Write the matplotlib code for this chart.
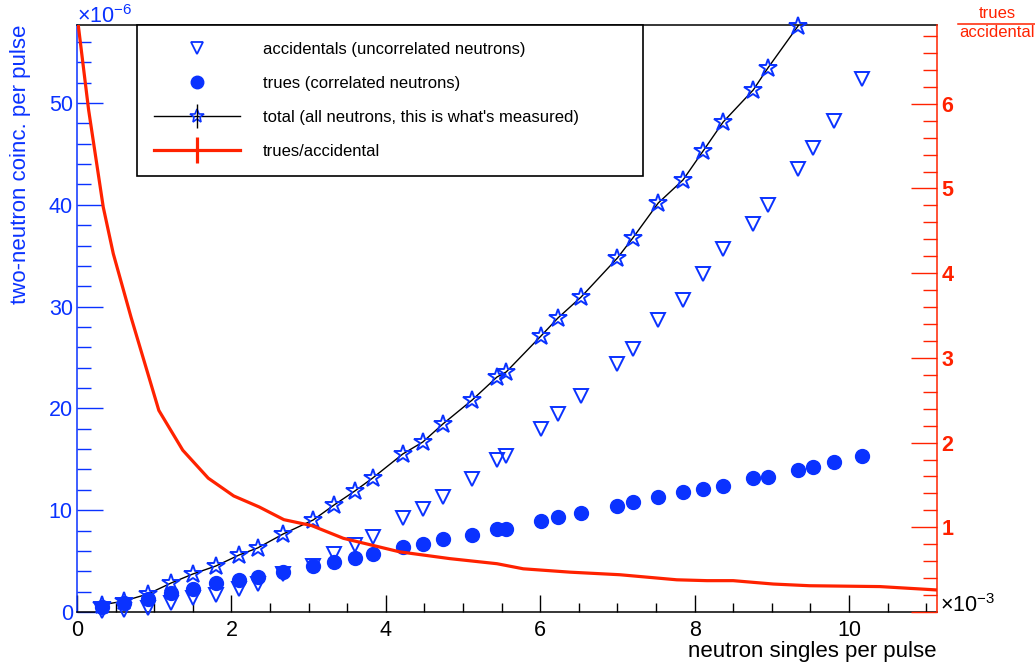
import numpy as np
import matplotlib.pyplot as plt
from matplotlib.lines import Line2D
from matplotlib.legend_handler import HandlerTuple
from matplotlib.ticker import MultipleLocator, FuncFormatter

plt.rcParams['font.family'] = ['Liberation Sans', 'DejaVu Sans']
plt.rcParams['mathtext.fontset'] = 'custom'
plt.rcParams['mathtext.rm'] = 'Liberation Sans'

BLUE = '#0a32ff'
RED = '#ff2200'

# neutron singles per pulse (units of 1e-3)
singles = [0.32, 0.61, 0.92, 1.22, 1.50, 1.80, 2.10, 2.34, 2.67, 3.06,
           3.33, 3.60, 3.83, 4.22, 4.48, 4.74, 5.12, 5.44, 5.56, 6.01,
           6.23, 6.53, 7.00, 7.20, 7.53, 7.85, 8.11, 8.37, 8.76, 8.95,
           9.34, 9.53, 9.81, 10.17]

# two-neutron coincidences per pulse (units of 1e-6)
accidentals = [0.05, 0.15, 0.39, 0.88, 1.38, 1.67, 2.26, 2.75, 3.73, 4.52,
               5.70, 6.58, 7.37, 9.23, 10.12, 11.30, 13.06, 14.93, 15.32, 17.98,
               19.45, 21.22, 24.36, 25.83, 28.68, 30.65, 33.20, 35.66, 38.11, 39.98,
               43.52, 45.58, 48.23, 52.36]
trues = [0.49, 0.88, 1.28, 1.87, 2.26, 2.85, 3.14, 3.44, 3.93, 4.52,
         4.91, 5.30, 5.70, 6.39, 6.68, 7.17, 7.56, 8.15, 8.15, 8.94,
         9.33, 9.72, 10.41, 10.81, 11.30, 11.79, 12.08, 12.38, 13.16, 13.26,
         13.95, 14.24, 14.73, 15.32]
total = [0.69, 1.08, 1.77, 2.85, 3.73, 4.52, 5.60, 6.29, 7.66, 9.04,
         10.51, 11.89, 13.16, 15.52, 16.70, 18.47, 20.83, 23.08, 23.58, 27.11,
         28.88, 30.94, 34.77, 36.74, 40.18, 42.44, 45.28, 48.13, 51.28, 53.44,
         57.56, 59.80, 62.96, 67.70]

# trues/accidental ratio curve (right axis)
ratio_x = [0.0, 0.15, 0.34, 0.47, 0.70, 1.06, 1.37, 1.70, 2.03, 2.36, 2.68,
           3.04, 3.45, 4.18, 4.83, 5.44, 5.78, 6.39, 7.03, 7.77, 8.16, 8.50,
           9.02, 9.49, 10.40, 11.14]
ratio_y = [7.05, 5.93, 4.78, 4.23, 3.48, 2.38, 1.91, 1.58, 1.37, 1.24, 1.09,
           1.02, 0.87, 0.71, 0.63, 0.57, 0.51, 0.47, 0.44, 0.38, 0.37, 0.37,
           0.33, 0.31, 0.30, 0.26]

XMAX, YMAX, RMAX = 11.14, 57.66, 6.93

fig = plt.figure(figsize=(10.35, 6.72), dpi=100)
ax = fig.add_axes([0.0744, 0.0893, 0.8309, 0.8735])
ax2 = ax.twinx()

x = np.array(singles)
tot = np.array(total)
vis = tot <= YMAX

ax.plot(x, tot, color='k', lw=1.0, zorder=2)
ax.plot(x[vis], tot[vis], ls='none', marker='*', ms=13.5, mfc='none', mec=BLUE,
        mew=1.4, clip_on=False, zorder=3)
ax.plot(x, accidentals, ls='none', marker='v', ms=10, mfc='none', mec=BLUE,
        mew=1.4, clip_on=False, zorder=3)
ax.plot(x, trues, ls='none', marker='o', ms=10, color=BLUE, clip_on=False, zorder=3)

ax2.plot(ratio_x, ratio_y, color=RED, lw=2.3)

ax.set_xlim(0, XMAX)
ax.set_ylim(0, YMAX)
ax2.set_ylim(0, RMAX)

ax.xaxis.set_major_locator(MultipleLocator(2))
ax.xaxis.set_minor_locator(MultipleLocator(0.5))
ax.yaxis.set_major_locator(MultipleLocator(10))
ax.yaxis.set_minor_locator(MultipleLocator(2))
ax2.yaxis.set_major_locator(MultipleLocator(1))
ax2.yaxis.set_minor_locator(MultipleLocator(0.2))
ax2.yaxis.set_major_formatter(FuncFormatter(lambda v, p: '' if v == 0 else f'{v:g}'))

ax.tick_params(axis='x', which='both', direction='in', top=False, labelsize=15.5, pad=6)
ax.tick_params(axis='x', which='major', length=12, width=1)
ax.tick_params(axis='x', which='minor', length=6.5, width=1)
ax.tick_params(axis='y', which='both', direction='in', right=False, color=BLUE,
               labelcolor=BLUE, labelsize=15.5, pad=3)
ax.tick_params(axis='y', which='major', length=19, width=1)
ax.tick_params(axis='y', which='minor', length=10, width=1)
ax2.tick_params(axis='y', which='both', direction='in', color=RED,
                labelcolor=RED, labelsize=15.5, pad=3)
ax2.tick_params(axis='y', which='major', length=19, width=1)
ax2.tick_params(axis='y', which='minor', length=10, width=1)
for t in ax2.yaxis.get_major_ticks():
    t.label2.set_fontweight('bold')

ax.spines['left'].set_color(BLUE)
ax.spines['right'].set_visible(False)
for s in ['left', 'top', 'bottom']:
    ax2.spines[s].set_visible(False)
ax2.spines['right'].set_color(RED)
for a in (ax, ax2):
    for s in a.spines.values():
        s.set_linewidth(1.1)

ax.set_ylabel('two-neutron coinc. per pulse', color=BLUE, fontsize=16, loc='top')
ax.yaxis.set_label_coords(-0.053, 1.0)
ax.set_xlabel('neutron singles per pulse', fontsize=16, loc='right')
ax.xaxis.set_label_coords(1.0, -0.05)

ax.text(0.0, 1.004, r'$\times\mathregular{10^{-6}}$', transform=ax.transAxes,
        color=BLUE, fontsize=15.5, ha='left', va='baseline')
ax.text(1.003, 0.0, r'$\times\mathregular{10^{-3}}$', transform=ax.transAxes,
        color='k', fontsize=15.5, ha='left', va='baseline')

fig.text(0.9633, 1 - 18 / 672, 'trues', color=RED, fontsize=12, ha='center', va='baseline')
fig.text(0.9633, 1 - 37 / 672, 'accidental', color=RED, fontsize=12, ha='center', va='baseline')
fig.add_artist(Line2D([958 / 1035, 1.0], [1 - 24 / 672] * 2, transform=fig.transFigure,
                      color=RED, lw=1.1))

# legend
h_acc = Line2D([], [], ls='none', marker='v', ms=9, mfc='none', mec=BLUE, mew=1.3)
h_tru = Line2D([], [], ls='none', marker='o', ms=9, color=BLUE)
h_tot = (Line2D([], [], color='k', lw=1.0),
         Line2D([], [], ls='none', marker='*', ms=10, mfc='none', mec=BLUE, mew=1.2),
         Line2D([], [], ls='none', marker='|', ms=17, mec='k', mew=1.0))
h_rat = (Line2D([], [], color=RED, lw=2.3),
         Line2D([], [], ls='none', marker='|', ms=19, mec=RED, mew=2.3))
leg = ax2.legend([h_acc, h_tru, h_tot, h_rat],
                 ['accidentals (uncorrelated neutrons)', 'trues (correlated neutrons)',
                  "total (all neutrons, this is what's measured)", 'trues/accidental'],
                 handler_map={tuple: HandlerTuple(ndivide=1)},
                 loc='upper left', bbox_to_anchor=(0.0698, 0.75, 0.5884, 0.25),
                 mode='expand', fontsize=12, fancybox=False, framealpha=1,
                 edgecolor='k', borderaxespad=0, borderpad=1.0, labelspacing=1.15,
                 handlelength=5.15, handletextpad=1.4)
leg.get_frame().set_linewidth(1.2)

fig.savefig('out.png', dpi=100)
